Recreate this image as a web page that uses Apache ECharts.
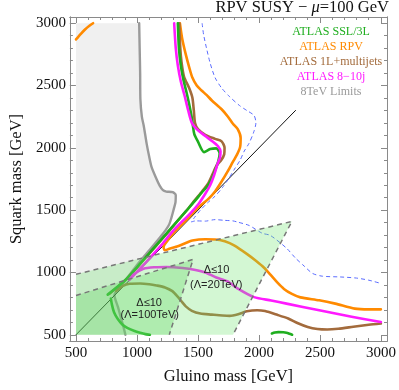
<!DOCTYPE html>
<html><head><meta charset="utf-8">
<script src="https://cdn.jsdelivr.net/npm/echarts@6/dist/echarts.min.js"></script>
<style>html,body{margin:0;padding:0;background:#fff}#c{width:399px;height:390px}</style>
</head><body><div id="c"></div><script>
// ---- tick values ----
const majorTicks = [500, 1000, 1500, 2000, 2500, 3000];
const minorTicks = [500,600,700,800,900,1000,1100,1200,1300,1400,1500,1600,1700,1800,1900,2000,2100,2200,2300,2400,2500,2600,2700,2800,2900,3000];

// ---- curves [gluino, squark] ----
const limits8TeV = [[1018,3000],[1022,2800],[1026,2600],[1028,2390],[1040,2250],[1055,2180],[1080,2030],[1100,1930],[1120,1845],[1160,1750],[1186,1697],[1213,1660],[1240,1649],[1293,1644],[1318,1620],[1316,1565],[1306,1524],[1266,1390],[1213,1310],[1120,1200],[1000,1060],[900,930],[815,818],[845,720],[870,630],[890,560],[905,500]];
const diagonal = [[500,500],[2300,2300]];
const atlasSSL3L_upper = [[1335,3000],[1344,2800],[1358,2670],[1380,2550],[1405,2450],[1428,2350],[1448,2250],[1458,2180],[1470,2110],[1500,2050],[1550,1966],[1600,1990],[1650,1996],[1678,1955],[1668,1897],[1640,1817],[1612,1750],[1575,1690],[1530,1640],[1480,1580],[1400,1490],[1320,1400],[1240,1310],[1150,1210],[1030,1075],[900,935],[760,822]];
const atlasSSL3L_lower = [[786,790],[795,740],[812,680],[840,630],[880,582],[920,556],[980,530],[1026,516],[1070,505],[1106,500]];
const atlasSSL3L_spot = [[2106,510],[2130,518],[2160,521],[2200,520],[2226,516],[2250,508],[2272,500]];
const atlasRPV_main = [[1352,3000],[1370,2880],[1400,2750],[1430,2640],[1454,2564],[1490,2500],[1530,2460],[1570,2425],[1614,2380],[1694,2310],[1746,2250],[1785,2195],[1826,2150],[1850,2080],[1845,2004],[1820,1945],[1785,1885],[1746,1815],[1694,1730],[1640,1650],[1590,1595],[1506,1524],[1400,1417],[1306,1324],[1250,1255],[1218,1205],[1228,1178],[1265,1190],[1320,1206],[1400,1236],[1454,1256],[1560,1266],[1640,1265],[1720,1250],[1800,1215],[1906,1145],[1980,1090],[2040,1040],[2094,982],[2150,920],[2205,868],[2270,828],[2340,800],[2494,777],[2626,750],[2786,710],[2900,704],[3000,704]];
const atlasRPV_corner = [[500,2870],[540,2915],[574,2950],[610,2980],[640,3000]];
const atlas1L_upper = [[1347,3000],[1355,2800],[1365,2690],[1386,2570],[1426,2484],[1454,2404],[1466,2300],[1476,2200],[1500,2150],[1560,2105],[1640,2072],[1694,2052],[1718,2000],[1715,1948],[1690,1900],[1654,1860],[1618,1785],[1582,1712],[1535,1652],[1475,1580],[1405,1495],[1325,1405],[1250,1318],[1155,1212],[1035,1078],[905,938],[772,828]];
const atlas1L_lower = [[830,850],[880,890],[940,910],[1026,912],[1100,906],[1160,896],[1230,880],[1290,850],[1334,806],[1370,762],[1400,728],[1450,692],[1520,670],[1614,662],[1700,655],[1760,652],[1830,665],[1900,688],[1986,697],[2050,690],[2150,660],[2240,630],[2320,592],[2400,562],[2480,546],[2560,542],[2650,548],[2774,564],[2900,580],[3000,590]];
const atlas810j = [[1305,3000],[1318,2800],[1335,2660],[1360,2530],[1390,2420],[1420,2300],[1450,2200],[1490,2150],[1560,2095],[1614,2055],[1665,2012],[1685,1970],[1680,1920],[1660,1870],[1632,1780],[1600,1700],[1560,1632],[1506,1552],[1426,1462],[1346,1386],[1280,1316],[1200,1220],[1100,1110],[1000,1005],[950,952],[936,938],[975,985],[1053,1030],[1150,1042],[1240,1044],[1374,1036],[1480,1020],[1560,1000],[1650,960],[1740,930],[1820,875],[1960,802],[2100,775],[2226,750],[2494,697],[2760,645],[3000,602]];
const reachDashed = [[1534,3000],[1546,2910],[1570,2800],[1600,2680],[1640,2564],[1694,2480],[1760,2410],[1840,2340],[1900,2300],[1960,2260],[1975,2200],[1955,2120],[1918,2035],[1880,1975],[1845,1900],[1800,1830],[1750,1750],[1700,1680],[1640,1612],[1580,1560],[1520,1500],[1472,1442],[1446,1405],[1480,1414],[1560,1412],[1640,1424],[1720,1418],[1786,1414],[1826,1404],[1920,1377],[2026,1315],[2094,1297],[2226,1195],[2300,1115],[2370,1052],[2440,992],[2520,970],[2666,964],[2800,955],[2900,938],[3000,912]];
const regionLambda20 = [[500,500],[500,985],[2270,1410],[1787,500]];
const regionLambda100 = [[500,500],[500,815],[1460,1105],[1265,500]];
const regionLabels = ['Δ≤10', '(Λ=100TeV)', 'Δ≤10', '(Λ=20TeV)'];
const regionLabelPos = [[1100,756],[1105,657],[1652,1017],[1650,897]];

// ---- legend ----
const legendNames = ['ATLAS SSL/3L', 'ATLAS RPV', 'ATLAS 1L+multijets', 'ATLAS 8\u221210j', '8TeV Limits'];
const legendColors = ['#1fae1f', '#ff8a00', '#a36b3c', '#ff1aff', '#9a9a9a'];

const serif = '"Liberation Serif", "DejaVu Serif", serif';
const axisGray = '#8a8a8a';

function lineSeries(data, color, width, extra) {
  return Object.assign({
    type: 'line', data: data, showSymbol: false, symbol: 'none', z: 2,
    smooth: 0.25, silent: true,
    lineStyle: { color: color, width: width, cap: 'round', join: 'round' }
  }, extra || {});
}
function polySeries(points, fill, z) {
  return {
    type: 'custom', z: z, silent: true, clip: true, data: points,
    renderItem: function (params, api) {
      if (params.dataIndex !== 0) return null;
      return { type: 'polygon', shape: { points: points.map(p => api.coord(p)) }, style: { fill: fill } };
    }
  };
}
const plainNum = v => String(v);
function xAx(pos, ticks, len, withLabel) {
  const a = {
    type: 'value', min: 450, max: 3050, position: pos,
    axisLine: { show: true, onZero: false, lineStyle: { color: axisGray, width: 1 } },
    axisTick: { show: true, inside: true, length: len, customValues: ticks, lineStyle: { color: axisGray } },
    axisLabel: withLabel ? { show: true, customValues: majorTicks, formatter: plainNum, margin: 5, fontFamily: serif, fontSize: 15, color: '#111' } : { show: false },
    splitLine: { show: false }
  };
  if (withLabel) Object.assign(a, { name: 'Gluino mass [GeV]', nameLocation: 'middle', nameGap: 27, nameTextStyle: { fontFamily: serif, fontSize: 16.5, color: '#111' } });
  return a;
}
function yAx(pos, ticks, len, withLabel) {
  const a = {
    type: 'value', min: 450, max: 3050, position: pos,
    axisLine: { show: true, onZero: false, lineStyle: { color: axisGray, width: 1 } },
    axisTick: { show: true, inside: true, length: len, customValues: ticks, lineStyle: { color: axisGray } },
    axisLabel: withLabel ? { show: true, customValues: majorTicks, formatter: plainNum, margin: 4, fontFamily: serif, fontSize: 15, color: '#111' } : { show: false },
    splitLine: { show: false }
  };
  if (withLabel) Object.assign(a, { name: 'Squark mass [GeV]', nameLocation: 'middle', nameGap: 42, nameTextStyle: { fontFamily: serif, fontSize: 16.5, color: '#111' } });
  return a;
}

const chart = echarts.init(document.getElementById('c'), null, { renderer: 'canvas' });
const grayFill = [[500,500],[500,3000]].concat(limits8TeV);

const graphics = [
  { type: 'text', right: 10, top: -1, style: { text: '{n|RPV SUSY \u2212 }{i|\u03bc}{n|=100 GeV}', rich: {
      n: { fontFamily: serif, fontSize: 16.5, fill: '#111' }, i: { fontFamily: serif, fontSize: 16.5, fontStyle: 'italic', fill: '#111' } } } }
];
legendNames.forEach((t, i) => {
  graphics.push({ type: 'text', x: 331, y: 32 + i * 15, style: { text: t, fill: legendColors[i], font: '12px ' + serif, textAlign: 'center', textVerticalAlign: 'middle' }, z: 100 });
});

chart.setOption({
  animation: false,
  grid: { left: 61, right: 12, top: 17, bottom: 47, containLabel: false },
  xAxis: [xAx('bottom', majorTicks, 6, true), xAx('bottom', minorTicks, 3, false), xAx('top', majorTicks, 6, false), xAx('top', minorTicks, 3, false)],
  yAxis: [yAx('left', majorTicks, 6, true), yAx('left', minorTicks, 3, false), yAx('right', majorTicks, 6, false), yAx('right', minorTicks, 3, false)],
  series: [
    polySeries(grayFill, '#f0f0f0', 1),
    lineSeries(limits8TeV, '#9a9a9a', 2.4),
    lineSeries(diagonal, '#111', 1, { smooth: false }),
    lineSeries(reachDashed, '#5a6cff', 1, { lineStyle: { color: '#5a6cff', width: 1, type: [4, 3] } }),
    lineSeries(atlasRPV_main, '#ff8a00', 2.6),
    lineSeries(atlasRPV_corner, '#ff8a00', 2.6),
    lineSeries(atlas1L_upper, '#a36b3c', 2.6),
    lineSeries(atlas1L_lower, '#a36b3c', 2.6),
    lineSeries(atlasSSL3L_upper, '#1fae1f', 2.6),
    lineSeries(atlasSSL3L_lower, '#1fae1f', 2.6),
    lineSeries(atlasSSL3L_spot, '#1fae1f', 2.6),
    lineSeries(atlas810j, '#ff1aff', 2.6),
    polySeries(regionLambda20, 'rgba(110,230,110,0.3)', 3),
    polySeries(regionLambda100, 'rgba(90,210,90,0.3)', 3),
    lineSeries(regionLambda20.slice(1), '#777', 1.5, { smooth: false, z: 4, lineStyle: { color: '#777', width: 1.5, type: [5, 4] } }),
    lineSeries(regionLambda100.slice(1), '#777', 1.5, { smooth: false, z: 4, lineStyle: { color: '#777', width: 1.5, type: [5, 4] } }),
    {
      type: 'custom', z: 5, silent: true, data: regionLabelPos,
      renderItem: function (params, api) {
        const p = api.coord([api.value(0), api.value(1)]);
        return { type: 'text', x: p[0], y: p[1], style: { text: regionLabels[params.dataIndex], fill: '#222', font: '11px "Liberation Sans", Arial, sans-serif', textAlign: 'center', textVerticalAlign: 'middle' } };
      }
    }
  ],
  graphic: graphics
});
</script></body></html>
